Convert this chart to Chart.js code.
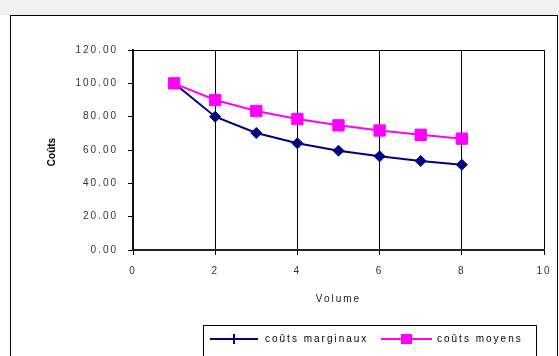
<!DOCTYPE html>
<html>
<head>
<meta charset="utf-8">
<script src="https://cdn.jsdelivr.net/npm/chart.js@4.4.0/dist/chart.umd.min.js"></script>
<style>
body{margin:0;background:#fff;}
#wrap{width:559px;height:356px;}
</style>
</head>
<body>
<div id="wrap"><canvas id="chart" width="559" height="356"></canvas></div>
<script>
const volumes=[1,2,3,4,5,6,7,8];
const coutsMarginaux=[100,80,70.2,64,59.6,56.2,53.4,51.2];
const coutsMoyens=[100,90,83.4,78.6,74.8,71.7,69.1,66.8];
const xTicks=[0,2,4,6,8,10];
const yTicks=[0,20,40,60,80,100,120];
const seriesNames=['coûts marginaux','coûts moyens'];
const yTitle='Coûts';
const xTitle='Volume';

const FONT='"Liberation Sans", Arial, sans-serif';

// frame, top strip, plot border, y title and boxed legend
const excelLook={
  id:'excelLook',
  beforeUpdate(chart){ chart.ctx.letterSpacing='2px'; },
  beforeDraw(chart){
    const c=chart.ctx;
    c.save();
    c.fillStyle='#fff';
    c.fillRect(0,0,559,356);
    c.fillStyle='#f0f0f0';
    c.fillRect(0,0,559,15);
    c.strokeStyle='#000';
    c.lineWidth=1;
    c.strokeRect(10.5,15.5,547,400);
    c.restore();
  },
  afterDraw(chart){
    const c=chart.ctx, a=chart.chartArea;
    c.save();
    c.strokeStyle='#000';
    c.lineWidth=1;
    c.beginPath();
    c.moveTo(a.left,Math.round(a.top)+0.5);
    c.lineTo(a.right,Math.round(a.top)+0.5);
    c.stroke();

    // y title
    c.letterSpacing='0px';
    c.translate(52,152);
    c.rotate(-Math.PI/2);
    c.font='bold 10px '+FONT;
    c.fillStyle='#000';
    c.textAlign='center';
    c.textBaseline='middle';
    c.fillText(yTitle,0,0);
    c.restore();

    // legend
    c.save();
    c.strokeStyle='#000';
    c.lineWidth=1;
    c.strokeRect(203.5,325.5,333,60);
    const ds=chart.data.datasets;
    const y=339;
    c.lineWidth=2;
    c.strokeStyle=ds[0].borderColor;
    c.beginPath(); c.moveTo(210,y); c.lineTo(258,y); c.stroke();
    c.beginPath(); c.moveTo(234,y-5); c.lineTo(234,y+5); c.stroke();
    c.strokeStyle=ds[1].borderColor;
    c.beginPath(); c.moveTo(381,y); c.lineTo(432,y); c.stroke();
    c.fillStyle=ds[1].backgroundColor;
    c.fillRect(401,y-5,11,10);
    c.letterSpacing='2px';
    c.font='10px '+FONT;
    c.fillStyle='#000';
    c.textBaseline='middle';
    c.fillText(ds[0].label,265,y);
    c.fillText(ds[1].label,437,y);
    c.restore();
  }
};

new Chart(document.getElementById('chart'),{
  type:'line',
  data:{
    datasets:[{
      label:seriesNames[0],
      data:volumes.map((v,i)=>({x:v,y:coutsMarginaux[i]})),
      borderColor:'#000080',
      backgroundColor:'#000080',
      borderWidth:2,
      pointStyle:'rectRot',
      pointRadius:5.5,
      pointBorderWidth:1,
      order:1
    },{
      label:seriesNames[1],
      data:volumes.map((v,i)=>({x:v,y:coutsMoyens[i]})),
      borderColor:'#FF00FF',
      backgroundColor:'#FF00FF',
      borderWidth:2,
      pointStyle:'rect',
      pointRadius:8,
      pointBorderWidth:1,
      order:0
    }]
  },
  options:{
    responsive:false,
    animation:false,
    devicePixelRatio:1,
    layout:{padding:{left:11,right:15,top:50,bottom:46}},
    plugins:{legend:{display:false},tooltip:{enabled:false}},
    scales:{
      x:{
        type:'linear',
        min:0,max:10,
        afterBuildTicks:s=>{s.ticks=xTicks.map(v=>({value:v}));},
        afterFit:s=>{s.height=60;s.paddingRight=3;s.paddingLeft=3;},
        ticks:{color:'#333',padding:10,maxRotation:0,font:{family:FONT,size:10}},
        grid:{color:'#000',lineWidth:1,tickLength:5,drawOnChartArea:true},
        border:{color:'#222',width:2},
        title:{display:true,text:xTitle,color:'#222',font:{family:FONT,size:10},padding:{top:0,bottom:5}}
      },
      y:{
        min:0,max:120,
        afterBuildTicks:s=>{s.ticks=yTicks.map(v=>({value:v}));},
        afterFit:s=>{s.width=122;},
        ticks:{color:'#333',padding:10,font:{family:FONT,size:10},callback:v=>v.toFixed(2)},
        grid:{color:'#000',tickLength:5,drawOnChartArea:false},
        border:{color:'#111',width:2}
      }
    }
  },
  plugins:[excelLook]
});
</script>
</body>
</html>
